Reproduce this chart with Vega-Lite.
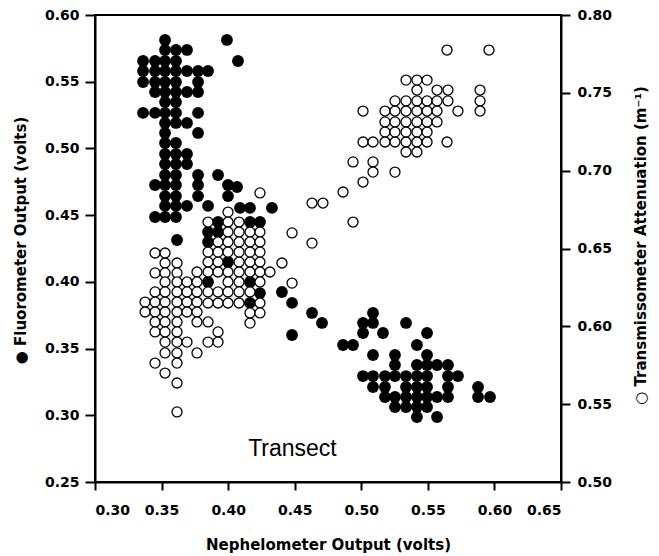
{
"$schema": "https://vega.github.io/schema/vega-lite/v6.json",
"width": 466, "height": 467,
"autosize": "none",
"padding": {"left": 95, "top": 15, "right": 98, "bottom": 74},
"background": "white",
"config": {
  "view": {"stroke": "black", "strokeWidth": 2},
  "axis": {"domainColor": "black", "domainWidth": 2, "tickColor": "black", "tickWidth": 2, "grid": false,
           "labelFont": "DejaVu Sans", "labelFontWeight": "bold", "labelFontSize": 14, "labelColor": "black",
           "titleFont": "DejaVu Sans", "titleFontWeight": "bold", "titleFontSize": 15, "titleColor": "black"}
},
"datasets": {
  "fluor": [
    {"x":0.3526,"y":0.5813},{"x":0.3991,"y":0.5813},
    {"x":0.3526,"y":0.5738},{"x":0.3608,"y":0.5738},{"x":0.3691,"y":0.5738},
    {"x":0.4074,"y":0.5655},
    {"x":0.3361,"y":0.5655},{"x":0.3451,"y":0.5655},{"x":0.3526,"y":0.5655},{"x":0.3608,"y":0.5655},
    {"x":0.3361,"y":0.5580},{"x":0.3451,"y":0.5580},{"x":0.3526,"y":0.5580},{"x":0.3608,"y":0.5580},{"x":0.3691,"y":0.5580},{"x":0.3774,"y":0.5580},{"x":0.3849,"y":0.5580},
    {"x":0.3361,"y":0.5498},{"x":0.3451,"y":0.5498},{"x":0.3526,"y":0.5498},{"x":0.3608,"y":0.5498},{"x":0.3774,"y":0.5498},
    {"x":0.3451,"y":0.5423},{"x":0.3526,"y":0.5423},{"x":0.3608,"y":0.5423},{"x":0.3691,"y":0.5423},{"x":0.3774,"y":0.5423},
    {"x":0.3526,"y":0.5348},{"x":0.3608,"y":0.5348},
    {"x":0.3361,"y":0.5266},{"x":0.3451,"y":0.5266},{"x":0.3526,"y":0.5266},{"x":0.3608,"y":0.5266},{"x":0.3774,"y":0.5266},
    {"x":0.3526,"y":0.5191},{"x":0.3608,"y":0.5191},{"x":0.3691,"y":0.5191},
    {"x":0.3526,"y":0.5116},{"x":0.3774,"y":0.5116},
    {"x":0.3526,"y":0.5041},{"x":0.3608,"y":0.5041},
    {"x":0.3526,"y":0.4958},{"x":0.3608,"y":0.4958},{"x":0.3691,"y":0.4958},
    {"x":0.3526,"y":0.4883},{"x":0.3608,"y":0.4883},{"x":0.3691,"y":0.4883},
    {"x":0.3526,"y":0.4801},{"x":0.3608,"y":0.4801},{"x":0.3774,"y":0.4801},{"x":0.3924,"y":0.4801},
    {"x":0.3451,"y":0.4726},{"x":0.3526,"y":0.4726},{"x":0.3608,"y":0.4726},{"x":0.3774,"y":0.4726},{"x":0.3999,"y":0.4726},{"x":0.4067,"y":0.4711},
    {"x":0.3526,"y":0.4643},{"x":0.3608,"y":0.4643},{"x":0.3774,"y":0.4643},{"x":0.3999,"y":0.4643},
    {"x":0.3526,"y":0.4569},{"x":0.3608,"y":0.4569},{"x":0.3691,"y":0.4569},{"x":0.3849,"y":0.4569},
    {"x":0.4089,"y":0.4554},{"x":0.4164,"y":0.4554},{"x":0.4329,"y":0.4554},
    {"x":0.3451,"y":0.4486},{"x":0.3526,"y":0.4486},{"x":0.3608,"y":0.4486},
    {"x":0.3924,"y":0.4449},{"x":0.4164,"y":0.4449},{"x":0.4239,"y":0.4449},
    {"x":0.3849,"y":0.4374},{"x":0.3924,"y":0.4374},
    {"x":0.3616,"y":0.4314},
    {"x":0.3849,"y":0.4299},
    {"x":0.3999,"y":0.4149},
    {"x":0.3849,"y":0.3999},{"x":0.4164,"y":0.3999},
    {"x":0.4404,"y":0.3924},{"x":0.4239,"y":0.3916},
    {"x":0.4164,"y":0.3842},{"x":0.4480,"y":0.3842},
    {"x":0.4630,"y":0.3767},{"x":0.5088,"y":0.3767},
    {"x":0.4705,"y":0.3692},{"x":0.5013,"y":0.3692},{"x":0.5088,"y":0.3692},{"x":0.5336,"y":0.3692},
    {"x":0.5013,"y":0.3617},{"x":0.5163,"y":0.3617},{"x":0.5494,"y":0.3617},
    {"x":0.4480,"y":0.3602},
    {"x":0.4863,"y":0.3527},{"x":0.4938,"y":0.3527},{"x":0.5418,"y":0.3527},
    {"x":0.5088,"y":0.3452},{"x":0.5253,"y":0.3452},{"x":0.5494,"y":0.3452},
    {"x":0.5253,"y":0.3377},{"x":0.5418,"y":0.3377},{"x":0.5494,"y":0.3377},{"x":0.5569,"y":0.3377},{"x":0.5651,"y":0.3377},
    {"x":0.5013,"y":0.3294},{"x":0.5088,"y":0.3294},{"x":0.5178,"y":0.3294},{"x":0.5253,"y":0.3294},{"x":0.5336,"y":0.3294},{"x":0.5418,"y":0.3294},{"x":0.5494,"y":0.3294},{"x":0.5651,"y":0.3294},{"x":0.5726,"y":0.3294},
    {"x":0.5088,"y":0.3212},{"x":0.5178,"y":0.3212},{"x":0.5336,"y":0.3212},{"x":0.5418,"y":0.3212},{"x":0.5494,"y":0.3212},{"x":0.5651,"y":0.3212},{"x":0.5877,"y":0.3212},
    {"x":0.5178,"y":0.3137},{"x":0.5253,"y":0.3137},{"x":0.5336,"y":0.3137},{"x":0.5418,"y":0.3137},{"x":0.5494,"y":0.3137},{"x":0.5569,"y":0.3137},{"x":0.5651,"y":0.3137},{"x":0.5877,"y":0.3137},{"x":0.5967,"y":0.3137},
    {"x":0.5253,"y":0.3062},{"x":0.5336,"y":0.3062},{"x":0.5418,"y":0.3062},{"x":0.5494,"y":0.3062},
    {"x":0.5418,"y":0.2987},{"x":0.5569,"y":0.2987}
  ],
  "trans": [
    {"x":0.5644,"y":0.7775},{"x":0.5959,"y":0.7775},
    {"x":0.5336,"y":0.7582},{"x":0.5418,"y":0.7582},{"x":0.5494,"y":0.7582},
    {"x":0.5418,"y":0.7518},{"x":0.5569,"y":0.7518},{"x":0.5651,"y":0.7518},{"x":0.5892,"y":0.7518},
    {"x":0.5253,"y":0.7448},{"x":0.5336,"y":0.7448},{"x":0.5418,"y":0.7448},{"x":0.5494,"y":0.7448},{"x":0.5569,"y":0.7448},{"x":0.5651,"y":0.7448},{"x":0.5892,"y":0.7448},
    {"x":0.5013,"y":0.7383},{"x":0.5178,"y":0.7383},{"x":0.5253,"y":0.7383},{"x":0.5336,"y":0.7383},{"x":0.5418,"y":0.7383},{"x":0.5494,"y":0.7383},{"x":0.5569,"y":0.7383},{"x":0.5726,"y":0.7383},{"x":0.5892,"y":0.7383},
    {"x":0.5178,"y":0.7313},{"x":0.5253,"y":0.7313},{"x":0.5336,"y":0.7313},{"x":0.5418,"y":0.7313},{"x":0.5494,"y":0.7313},{"x":0.5569,"y":0.7313},
    {"x":0.5178,"y":0.7248},{"x":0.5253,"y":0.7248},{"x":0.5336,"y":0.7248},{"x":0.5418,"y":0.7248},{"x":0.5494,"y":0.7248},
    {"x":0.5013,"y":0.7184},{"x":0.5088,"y":0.7184},{"x":0.5178,"y":0.7184},{"x":0.5253,"y":0.7184},{"x":0.5336,"y":0.7184},{"x":0.5418,"y":0.7184},{"x":0.5494,"y":0.7184},{"x":0.5644,"y":0.7184},
    {"x":0.5336,"y":0.7120},{"x":0.5418,"y":0.7120},
    {"x":0.4938,"y":0.7056},{"x":0.5088,"y":0.7056},
    {"x":0.5088,"y":0.6991},{"x":0.5253,"y":0.6991},
    {"x":0.5013,"y":0.6927},
    {"x":0.4863,"y":0.6863},
    {"x":0.4239,"y":0.6857},
    {"x":0.4630,"y":0.6792},{"x":0.4712,"y":0.6792},
    {"x":0.3999,"y":0.6734},
    {"x":0.3849,"y":0.6670},{"x":0.3999,"y":0.6670},{"x":0.4082,"y":0.6670},{"x":0.4938,"y":0.6670},
    {"x":0.3999,"y":0.6606},{"x":0.4082,"y":0.6606},{"x":0.4164,"y":0.6606},{"x":0.4239,"y":0.6606},{"x":0.4480,"y":0.6600},
    {"x":0.3924,"y":0.6542},{"x":0.3999,"y":0.6542},{"x":0.4082,"y":0.6542},{"x":0.4164,"y":0.6542},{"x":0.4239,"y":0.6542},{"x":0.4630,"y":0.6535},
    {"x":0.3849,"y":0.6477},{"x":0.3924,"y":0.6477},{"x":0.3999,"y":0.6477},{"x":0.4082,"y":0.6477},{"x":0.4164,"y":0.6477},{"x":0.4239,"y":0.6477},
    {"x":0.3451,"y":0.6471},{"x":0.3526,"y":0.6471},
    {"x":0.3849,"y":0.6413},{"x":0.3924,"y":0.6413},{"x":0.4082,"y":0.6413},{"x":0.4164,"y":0.6413},{"x":0.4239,"y":0.6413},
    {"x":0.3526,"y":0.6407},{"x":0.3616,"y":0.6407},{"x":0.4404,"y":0.6407},
    {"x":0.3766,"y":0.6349},{"x":0.3849,"y":0.6349},{"x":0.3924,"y":0.6349},{"x":0.3999,"y":0.6349},{"x":0.4082,"y":0.6349},{"x":0.4164,"y":0.6349},{"x":0.4239,"y":0.6349},{"x":0.4314,"y":0.6349},
    {"x":0.3451,"y":0.6343},{"x":0.3526,"y":0.6343},{"x":0.3616,"y":0.6343},
    {"x":0.3526,"y":0.6285},{"x":0.3616,"y":0.6285},{"x":0.3691,"y":0.6285},{"x":0.3766,"y":0.6285},{"x":0.3999,"y":0.6285},{"x":0.4082,"y":0.6285},{"x":0.4239,"y":0.6285},
    {"x":0.4480,"y":0.6278},
    {"x":0.3451,"y":0.6221},{"x":0.3526,"y":0.6221},{"x":0.3616,"y":0.6221},{"x":0.3691,"y":0.6221},{"x":0.3766,"y":0.6221},{"x":0.3849,"y":0.6221},{"x":0.3924,"y":0.6221},{"x":0.3999,"y":0.6221},{"x":0.4082,"y":0.6221},{"x":0.4164,"y":0.6221},
    {"x":0.3376,"y":0.6156},{"x":0.3451,"y":0.6156},{"x":0.3526,"y":0.6156},{"x":0.3616,"y":0.6156},{"x":0.3691,"y":0.6156},{"x":0.3766,"y":0.6156},
    {"x":0.3849,"y":0.6150},{"x":0.3924,"y":0.6150},{"x":0.3999,"y":0.6150},{"x":0.4082,"y":0.6150},{"x":0.4239,"y":0.6150},
    {"x":0.3376,"y":0.6092},{"x":0.3451,"y":0.6092},{"x":0.3526,"y":0.6092},{"x":0.3616,"y":0.6092},{"x":0.3691,"y":0.6092},{"x":0.3766,"y":0.6092},
    {"x":0.4164,"y":0.6086},{"x":0.4239,"y":0.6086},
    {"x":0.3451,"y":0.6028},{"x":0.3526,"y":0.6028},{"x":0.3616,"y":0.6028},{"x":0.3766,"y":0.6028},{"x":0.3849,"y":0.6028},
    {"x":0.4164,"y":0.6021},
    {"x":0.3451,"y":0.5964},{"x":0.3526,"y":0.5964},{"x":0.3616,"y":0.5964},{"x":0.3924,"y":0.5964},
    {"x":0.3526,"y":0.5899},{"x":0.3616,"y":0.5899},{"x":0.3691,"y":0.5899},{"x":0.3849,"y":0.5899},{"x":0.3924,"y":0.5899},
    {"x":0.3526,"y":0.5829},{"x":0.3616,"y":0.5829},{"x":0.3766,"y":0.5829},
    {"x":0.3451,"y":0.5764},{"x":0.3616,"y":0.5764},
    {"x":0.3526,"y":0.5700},
    {"x":0.3616,"y":0.5636},
    {"x":0.3616,"y":0.5450}
  ],
  "label": [{"x":0.4483,"y":0.2745,"label":"Transect"}]
},
"layer": [
  {"layer": [
    {"data": {"name": "fluor"},
     "mark": {"type": "circle", "size": 140, "color": "black", "opacity": 1},
     "encoding": {
       "x": {"field": "x", "type": "quantitative",
             "scale": {"domain": [0.3, 0.65], "nice": false, "zero": false},
             "axis": {"values": [0.3,0.35,0.4,0.45,0.5,0.55,0.6,0.65], "format": ".2f", "tickSize": 8, "labelPadding": 13,
                      "title": "Nephelometer Output (volts)", "titlePadding": 20}},
       "y": {"field": "y", "type": "quantitative",
             "scale": {"domain": [0.25, 0.6], "nice": false, "zero": false},
             "axis": {"values": [0.25,0.3,0.35,0.4,0.45,0.5,0.55,0.6], "format": ".2f", "tickSize": 10, "labelPadding": 6,
                      "title": "●      Fluorometer Output (volts)", "titleAngle": 270, "titleAlign": "center", "titleBaseline": "middle",
                      "titleX": -75, "titleY": 225}}
     }},
    {"data": {"name": "label"},
     "mark": {"type": "text", "font": "Liberation Sans", "fontSize": 23, "align": "center", "baseline": "middle", "color": "black"},
     "encoding": {
       "x": {"field": "x", "type": "quantitative"},
       "y": {"field": "y", "type": "quantitative"},
       "text": {"field": "label"}
     }}
  ]},
  {"data": {"name": "trans"},
   "mark": {"type": "circle", "size": 100, "fill": "white", "stroke": "black", "strokeWidth": 1.3, "opacity": 1, "fillOpacity": 1},
   "encoding": {
     "x": {"field": "x", "type": "quantitative"},
     "y": {"field": "y", "type": "quantitative",
           "scale": {"domain": [0.5, 0.8], "nice": false, "zero": false},
           "axis": {"orient": "right", "values": [0.5,0.55,0.6,0.65,0.7,0.75,0.8], "format": ".2f", "tickSize": 9, "labelPadding": 7,
                    "title": "○      Transmissometer Attenuation (m⁻¹)", "titleAngle": 270, "titleAlign": "center", "titleBaseline": "middle",
                    "titleX": 79, "titleY": 230}}
   }}
],
"resolve": {"scale": {"y": "independent"}}
}
